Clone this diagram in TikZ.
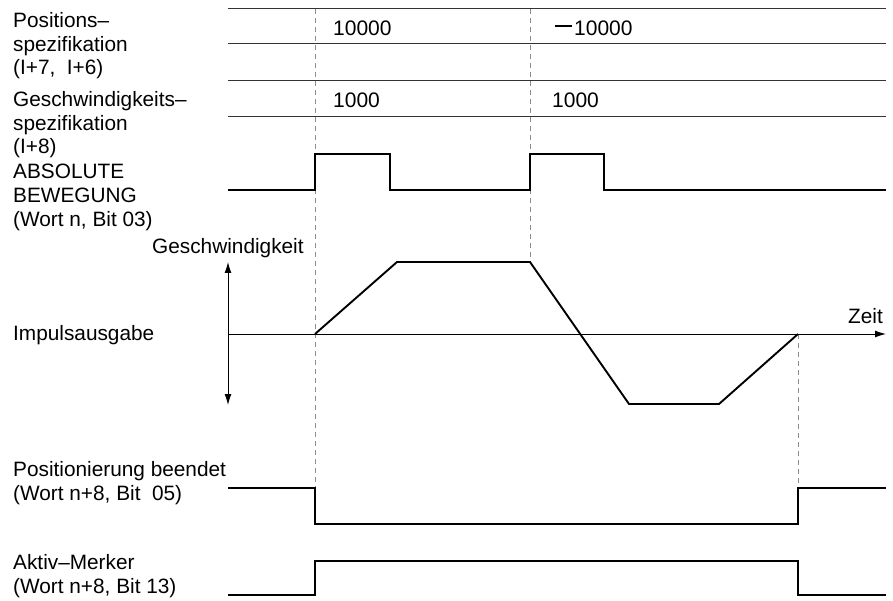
\documentclass[tikz,border=0pt]{standalone}
\usepackage{fontspec}
\setmainfont{Liberation Sans}
\usetikzlibrary{arrows.meta}
\begin{document}
\begin{tikzpicture}[x=1pt,y=-1pt,
  >={Latex[length=11pt,width=7pt]},
  lbl/.style={anchor=base west, inner sep=0pt, align=left, font=\fontsize{20.8}{23.8}\selectfont},
  val/.style={anchor=base west, inner sep=0pt, font=\fontsize{21}{24}\selectfont},
  sig/.style={line width=1.3pt, line join=miter},
  bus/.style={line width=1pt, draw=black!80},
  speed/.style={line width=1.9pt, line join=miter},
  guide/.style={draw=black!45, line width=0.9pt, dash pattern=on 5pt off 4pt},
  axisline/.style={line width=1pt},
]
\useasboundingbox (0,0) rectangle (893,601);

% guide lines
\draw[guide] (315,9) coordinate (g1a) -- (315,488) coordinate (g1b);
\draw[guide] (530,9) coordinate (g2a) -- (530,262) coordinate (g2b);
\draw[guide] (798,334) coordinate (g3a) -- (798,488) coordinate (g3b);

% bus lines (position / speed specification)
\foreach \yy in {9,44,81,117} \draw[bus] (228,\yy) -- (886,\yy);

% ABSOLUTE BEWEGUNG
\draw[sig] (228,190) -| (315,154) -| (390,190) -| (530,154) -| (604,190) -- (886,190);

% speed axes
\draw[axisline, ->] (228,334) coordinate (ax0) -- (886,334) coordinate (ax1);
\draw[axisline, <->] (228,262) coordinate (ay0) -- (228,405) coordinate (ay1);
\draw[speed] (315,334) -- (397,262) -- (530,262) -- (629,404) -- (719,404) -- (798,334);

% Positionierung beendet
\draw[sig] (228,488) -| (315,524) -| (798,488) -- (886,488);
% Aktiv-Merker
\draw[sig] (228,595) -| (315,561) -| (798,595) -- (886,595);

% values
\node[val] (v1) at (333,35.5) {10000};
\node[val] (v2) at (555,35.5) {\rule[8.7pt]{16.5pt}{1.8pt}\hspace{2.5pt}10000};
\node[val] (v3) at (333,107.5) {1000};
\node[val] (v4) at (552,107.5) {1000};

% labels (anchored at the baseline of their last line)
\node[lbl] (l1) at (13,75) {Positions–\\spezifikation\\(I+7,\ \ I+6)};
\node[lbl] (l2) at (13,154) {Geschwindigkeits–\\spezifikation\\(I+8)};
\node[lbl] (l3) at (13,226.5) {ABSOLUTE\\BEWEGUNG\\(Wort n, Bit 03)};
\node[lbl] (l4) at (152,254) {Geschwindigkeit};
\node[lbl] (l5) at (13,340) {Impulsausgabe};
\node[lbl] (l6) at (848,323) {Zeit};
\node[lbl] (l7) at (13,500.5) {Positionierung beendet\\(Wort n+8, Bit\ \ 05)};
\node[lbl] (l8) at (13,593) {Aktiv–Merker\\(Wort n+8, Bit 13)};
\end{tikzpicture}
\end{document}
